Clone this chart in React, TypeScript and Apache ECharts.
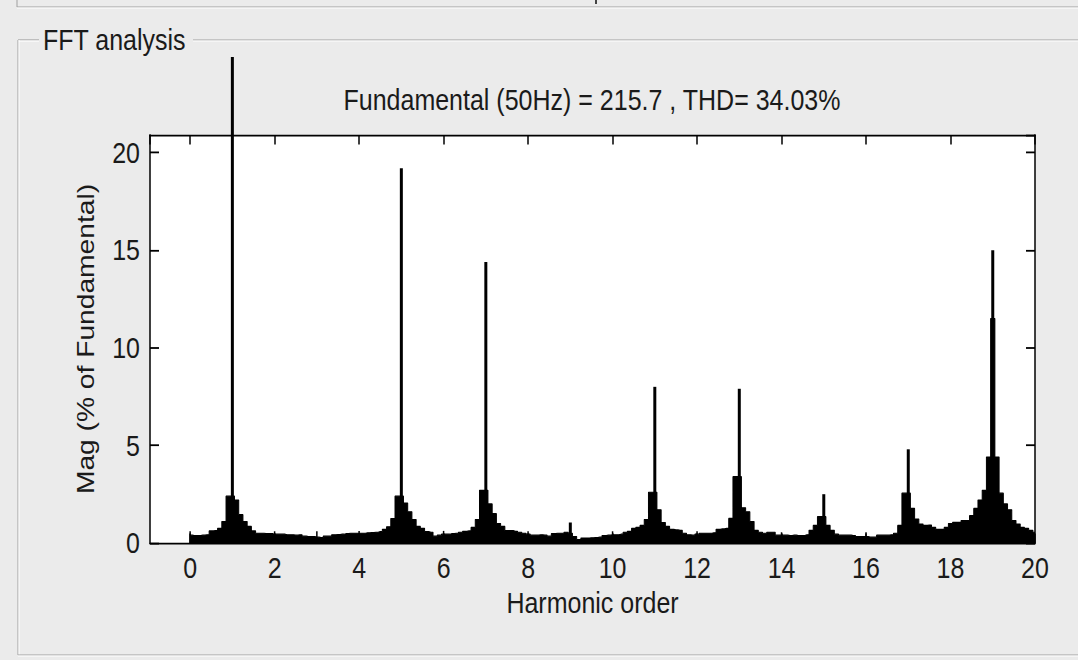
import React, { useEffect, useRef } from 'react';
import * as echarts from 'echarts';

// Spectrum "skirt" (bins every 0.1 harmonic order), % of fundamental
const skirt0to4 = [
  0.4, 0.38, 0.38, 0.4, 0.42, 0.62, 0.63, 0.75, 1.1, 2.4,
  2.4, 2.2, 1.45, 1.1, 0.85, 0.62, 0.5, 0.5, 0.48, 0.48,
  0.45, 0.45, 0.45, 0.42, 0.42, 0.4, 0.42, 0.35, 0.33, 0.33,
  0.3, 0.28, 0.35, 0.35, 0.42, 0.43, 0.45, 0.48, 0.5, 0.5,
];
const skirt4to8 = [
  0.5, 0.5, 0.52, 0.53, 0.55, 0.58, 0.7, 0.83, 1.25, 2.4,
  2.4, 2.05, 1.6, 1.2, 0.85, 0.75, 0.58, 0.55, 0.35, 0.4,
  0.45, 0.45, 0.48, 0.5, 0.55, 0.6, 0.62, 0.8, 1.2, 2.7,
  2.7, 2.0, 1.5, 1.0, 0.85, 0.63, 0.63, 0.6, 0.55, 0.5,
];
const skirt8to12 = [
  0.45, 0.4, 0.4, 0.42, 0.4, 0.35, 0.48, 0.5, 0.5, 0.55,
  0.5, 0.33, 0.18, 0.25, 0.25, 0.27, 0.28, 0.3, 0.38, 0.4,
  0.42, 0.42, 0.45, 0.55, 0.6, 0.75, 0.8, 0.9, 1.2, 2.6,
  2.6, 1.7, 1.05, 0.85, 0.7, 0.67, 0.65, 0.5, 0.42, 0.4,
];
const skirt12to16 = [
  0.45, 0.5, 0.5, 0.5, 0.52, 0.7, 0.72, 0.75, 1.26, 3.4,
  3.4, 1.8, 1.6, 1.1, 0.65, 0.55, 0.5, 0.55, 0.55, 0.4,
  0.4, 0.4, 0.38, 0.4, 0.38, 0.38, 0.42, 0.65, 0.9, 1.35,
  1.35, 0.9, 0.65, 0.45, 0.4, 0.4, 0.4, 0.38, 0.33, 0.33,
];
const skirt16to20 = [
  0.33, 0.3, 0.3, 0.4, 0.4, 0.4, 0.42, 0.5, 0.9, 2.55,
  2.55, 1.77, 1.23, 0.97, 0.9, 0.92, 0.8, 0.7, 0.7, 0.8,
  1.0, 1.06, 1.06, 1.15, 1.15, 1.4, 1.77, 2.2, 2.7, 4.4,
  11.5, 4.4, 2.55, 2.0, 1.7, 1.15, 0.97, 0.8, 0.75, 0.65,
  0.55,
];
const segmentStarts = [0, 4, 8, 12, 16];
const binStep = 0.1;

// Narrow spectral lines at (near) integer harmonic orders
const spikeOrders = [0, 1, 2, 3, 4, 5, 6, 7, 8, 9, 10, 11, 12, 13, 14, 15, 16, 17, 19];
const spikeValues = [0.6, 24.9, 0.6, 0.6, 0.62, 19.2, 0.62, 14.4, 0.6, 1.05, 0.6, 8.0, 0.6, 7.9, 0.55, 2.5, 0.55, 4.8, 15.0];

const panelTitle = 'FFT analysis';
const plotTitle = 'Fundamental (50Hz) = 215.7 , THD= 34.03%';
const xAxisName = 'Harmonic order';
const yAxisName = 'Mag (% of Fundamental)';

const FONT = '"Liberation Sans", Arial, sans-serif';
const BG = '#ebebeb';
const INK = '#1a1a1a';
const STRETCH = 1.2; // the original screenshot is stretched vertically
const W = 1078;
const H = 660;
const sy = (y: number) => y / STRETCH;

export default function App() {
  const ref = useRef<HTMLDivElement>(null);

  useEffect(() => {
    if (!ref.current) return;
    const chart = echarts.init(ref.current, undefined, { renderer: 'svg' });

    const segments = [skirt0to4, skirt4to8, skirt8to12, skirt12to16, skirt16to20];
    const skirtData: number[][] = [];
    segments.forEach((seg, k) => {
      seg.forEach((v, i) => {
        skirtData.push([Number((segmentStarts[k] + i * binStep).toFixed(1)), v]);
      });
    });
    const spikeData = spikeOrders.map((h, i) => [h, spikeValues[i]]);

    const hline = (x1: number, x2: number, y: number) => [
      { type: 'line', shape: { x1, y1: sy(y), x2, y2: sy(y) }, style: { stroke: '#a0a0a0', lineWidth: 1 }, silent: true },
      { type: 'line', shape: { x1, y1: sy(y + 1), x2, y2: sy(y + 1) }, style: { stroke: '#ffffff', lineWidth: 1 }, silent: true },
    ];
    const vline = (x: number, y1: number, y2: number) => [
      { type: 'line', shape: { x1: x, y1: sy(y1), x2: x, y2: sy(y2) }, style: { stroke: '#a0a0a0', lineWidth: 1 }, silent: true },
      { type: 'line', shape: { x1: x + 1, y1: sy(y1), x2: x + 1, y2: sy(y2) }, style: { stroke: '#ffffff', lineWidth: 1 }, silent: true },
    ];

    const commonX = {
      type: 'value',
      min: -0.95,
      max: 20,
      splitNumber: 10,
      minInterval: 2,
      maxInterval: 2,
      splitLine: { show: false },
      axisLine: { show: true, onZero: false, lineStyle: { color: '#000', width: 1.5 } },
      axisTick: { show: true, inside: true, length: 8, lineStyle: { color: '#000', width: 1.5 } },
    };
    const commonY = {
      type: 'value',
      min: 0,
      max: 20.9,
      interval: 5,
      splitLine: { show: false },
      axisLine: { show: true, onZero: false, lineStyle: { color: '#000', width: 1.5 } },
      axisTick: { show: true, inside: true, length: 9, lineStyle: { color: '#000', width: 1.5 } },
    };

    chart.setOption({
      animation: false,
      backgroundColor: BG,
      textStyle: { fontFamily: FONT, color: INK },
      grid: {
        left: 150,
        right: W - 1035,
        top: sy(135),
        bottom: sy(H - 543),
        show: true,
        backgroundColor: '#ffffff',
        borderWidth: 0,
        containLabel: false,
        outerBoundsMode: 'none',
      },
      xAxis: [
        {
          ...commonX,
          position: 'bottom',
          name: xAxisName,
          nameLocation: 'middle',
          nameGap: 37,
          nameMoveOverlap: false,
          nameTextStyle: { fontFamily: FONT, fontSize: 25, color: INK },
          axisLabel: {
            show: true,
            margin: 8,
            fontFamily: FONT,
            fontSize: 25,
            color: INK,
            showMinLabel: false,
          },
        },
        {
          ...commonX,
          position: 'top',
          axisLabel: { show: false },
        },
      ],
      yAxis: [
        {
          ...commonY,
          position: 'left',
          name: yAxisName,
          nameLocation: 'middle',
          nameGap: 52,
          nameMoveOverlap: false,
          nameTextStyle: { fontFamily: FONT, fontSize: 23.5, color: INK },
          axisLabel: {
            show: true,
            margin: 10,
            fontFamily: FONT,
            fontSize: 25,
            color: INK,
            showMaxLabel: false,
          },
        },
        {
          ...commonY,
          position: 'right',
          axisLabel: { show: false },
        },
      ],
      series: [
        {
          type: 'line',
          xAxisIndex: 0,
          yAxisIndex: 0,
          step: 'middle',
          data: skirtData,
          symbol: 'none',
          lineStyle: { color: '#000', width: 1 },
          areaStyle: { color: '#000', opacity: 1 },
          z: 3,
        },
        {
          type: 'custom',
          xAxisIndex: 0,
          yAxisIndex: 0,
          data: spikeData,
          clip: false,
          z: 4,
          renderItem: (_params: any, api: any) => {
            const h = api.value(0);
            const v = api.value(1);
            const base = api.coord([h, 0]);
            const top = api.coord([h, v]);
            const w = v > 0.9 ? 3 : 1.5;
            return {
              type: 'rect',
              shape: { x: base[0] - w / 2, y: top[1], width: w, height: base[1] - top[1] },
              style: { fill: '#000' },
            };
          },
        },
      ],
      graphic: [
        ...hline(17, W, 7),
        { type: 'line', shape: { x1: 17, y1: 0, x2: 17, y2: sy(7) }, style: { stroke: '#a0a0a0', lineWidth: 1 }, silent: true },
        { type: 'line', shape: { x1: 596, y1: 0, x2: 596, y2: sy(4) }, style: { stroke: '#444', lineWidth: 2 }, silent: true },
        ...hline(18, 39, 40),
        ...hline(193, W, 40),
        ...vline(18, 40, 655),
        ...hline(18, W, 655),
        {
          type: 'text',
          x: 43,
          y: sy(40),
          style: {
            text: panelTitle,
            fontFamily: FONT,
            fontSize: 25,
            fill: INK,
            align: 'left',
            verticalAlign: 'middle',
          },
          silent: true,
        },
        {
          type: 'text',
          x: 592,
          y: sy(100),
          style: {
            text: plotTitle,
            fontFamily: FONT,
            fontSize: 25,
            fill: INK,
            align: 'center',
            verticalAlign: 'middle',
          },
          silent: true,
        },
      ],
    });

    return () => chart.dispose();
  }, []);

  return (
    <div style={{ position: 'fixed', left: 0, top: 0, width: W, height: H, background: BG, overflow: 'hidden' }}>
      <div
        ref={ref}
        style={{
          width: W,
          height: H / STRETCH,
          transform: `scaleY(${STRETCH})`,
          transformOrigin: '0 0',
        }}
      />
    </div>
  );
}
